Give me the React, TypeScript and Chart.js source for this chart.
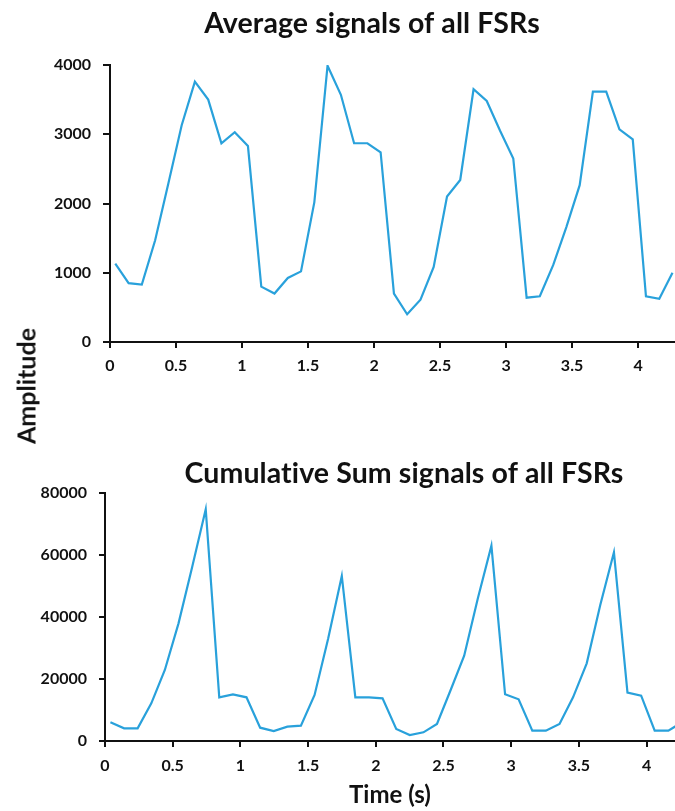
import React, { useEffect, useRef } from "react";
import { Chart, registerables } from "chart.js";

Chart.register(...registerables);

const times = [
  0.04, 0.141, 0.241, 0.342, 0.442, 0.543, 0.643, 0.744, 0.844, 0.945,
  1.045, 1.146, 1.246, 1.347, 1.447, 1.548, 1.648, 1.749, 1.849, 1.95,
  2.05, 2.151, 2.251, 2.352, 2.452, 2.553, 2.653, 2.754, 2.854, 2.955,
  3.055, 3.156, 3.256, 3.357, 3.457, 3.558, 3.658, 3.759, 3.859, 3.96,
  4.06, 4.161, 4.261,
];

const averageSignal = [
  1130, 850, 830, 1470, 2290, 3130, 3760, 3500, 2870, 3030,
  2830, 800, 700, 925, 1020, 2020, 3990, 3570, 2870, 2870,
  2740, 700, 400, 610, 1085, 2100, 2340, 3650, 3480, 3050,
  2650, 640, 660, 1110, 1660, 2265, 3615, 3615, 3070, 2925,
  660, 625, 1000,
];

const cumulativeSignal = [
  6030, 4090, 4090, 12170, 22930, 38000, 56000, 74830, 14110, 15080,
  14110, 4300, 3230, 4630, 4950, 14860, 33000, 53290, 14110, 14110,
  13790, 3880, 1940, 2800, 5490, 16470, 27560, 46090, 63080, 15080,
  13470, 3330, 3330, 5490, 14110, 25090, 43930, 60950, 15600, 14630,
  3330, 3330, 6000,
];

const topTitle = "Average signals of all FSRs";
const bottomTitle = "Cumulative Sum signals of all FSRs";
const yAxisLabel = "Amplitude";
const xAxisLabel = "Time (s)";

const LINE = "#29A1DB";
const FONT = "Lato";
const INK = "#111";

const titlePlugin = {
  id: "placedTitle",
  afterDraw(chart: any) {
    const o = chart.options.plugins.placedTitle;
    if (!o || !o.text) return;
    const ctx = chart.ctx;
    ctx.save();
    ctx.fillStyle = INK;
    ctx.font = `bold ${o.size}px ${FONT}`;
    try {
      (ctx as any).letterSpacing = "0.1px";
    } catch (e) {}
    ctx.textAlign = "center";
    ctx.textBaseline = "alphabetic";
    ctx.fillText(o.text, o.x, o.y);
    ctx.restore();
  },
};

function makeConfig(opts: {
  values: number[];
  title: string;
  titleX: number;
  titleY: number;
  topPad: number;
  yMax: number;
  yStep: number;
  xMax: number;
  yWidth: number;
  xHeight: number;
  tickLenY: number;
  tickLenX: number;
  yPad: number;
  xPad: number;
  xTitle?: string;
}) {
  return {
    type: "line" as const,
    data: {
      datasets: [
        {
          data: times.map((t, i) => ({ x: t, y: opts.values[i] })),
          borderColor: LINE,
          borderWidth: 2.2,
          pointRadius: 0,
          tension: 0,
          fill: false,
        },
      ],
    },
    plugins: [titlePlugin],
    options: {
      animation: false,
      responsive: false,
      maintainAspectRatio: false,
      layout: { padding: { top: opts.topPad, left: 0, right: 0, bottom: 0 } },
      plugins: {
        legend: { display: false },
        tooltip: { enabled: false },
        title: { display: false },
        placedTitle: { text: opts.title, x: opts.titleX, y: opts.titleY, size: 28.5 },
      },
      scales: {
        x: {
          type: "linear",
          min: 0,
          max: opts.xMax,
          grid: {
            display: true,
            drawOnChartArea: false,
            drawTicks: true,
            tickLength: opts.tickLenX,
            color: INK,
            lineWidth: 2,
          },
          border: { display: true, color: INK, width: 2 },
          ticks: {
            stepSize: 0.5,
            includeBounds: false,
            color: INK,
            padding: opts.xPad,
            maxRotation: 0,
            font: { family: FONT, size: 16, weight: "bold" },
            callback: (v: number) => String(v),
          },
          title: opts.xTitle
            ? {
                display: true,
                text: opts.xTitle,
                color: INK,
                font: { family: FONT, size: 24, weight: "bold" },
                padding: { top: 0, bottom: 1 },
              }
            : { display: false },
          afterFit: (s: any) => {
            s.height = opts.xHeight;
          },
        },
        y: {
          min: 0,
          max: opts.yMax,
          grid: {
            display: true,
            drawOnChartArea: false,
            drawTicks: true,
            tickLength: opts.tickLenY,
            color: INK,
            lineWidth: 2,
          },
          border: { display: true, color: INK, width: 2 },
          ticks: {
            stepSize: opts.yStep,
            color: INK,
            padding: opts.yPad,
            font: { family: FONT, size: 16, weight: "bold" },
            callback: (v: number) => String(v),
          },
          afterFit: (s: any) => {
            s.width = opts.yWidth;
          },
        },
      },
    },
  };
}

export default function App() {
  const topRef = useRef<HTMLCanvasElement | null>(null);
  const botRef = useRef<HTMLCanvasElement | null>(null);

  useEffect(() => {
    const c1 = new Chart(
      topRef.current as HTMLCanvasElement,
      makeConfig({
        values: averageSignal,
        title: topTitle,
        titleX: 372,
        titleY: 33,
        topPad: 65,
        yMax: 4000,
        yStep: 1000,
        xMax: 4.28,
        yWidth: 110,
        xHeight: 58,
        tickLenY: 7,
        tickLenX: 6,
        yPad: 12,
        xPad: 8,
      }) as any
    );
    const c2 = new Chart(
      botRef.current as HTMLCanvasElement,
      makeConfig({
        values: cumulativeSignal,
        title: bottomTitle,
        titleX: 404,
        titleY: 43,
        topPad: 53.3,
        yMax: 80000,
        yStep: 20000,
        xMax: 4.21,
        yWidth: 105,
        xHeight: 70,
        tickLenY: 6,
        tickLenX: 6,
        yPad: 12,
        xPad: 9,
        xTitle: xAxisLabel,
      }) as any
    );
    return () => {
      c1.destroy();
      c2.destroy();
    };
  }, []);

  return (
    <div
      style={{
        position: "fixed",
        left: 0,
        top: 0,
        width: 675,
        height: 811,
        background: "#fff",
        overflow: "hidden",
      }}
    >
      <canvas
        ref={topRef}
        width={675}
        height={400}
        style={{ position: "absolute", left: 0, top: 0, width: 675, height: 400 }}
      />
      <canvas
        ref={botRef}
        width={675}
        height={371}
        style={{ position: "absolute", left: 0, top: 440, width: 675, height: 371 }}
      />
      <div
        style={{
          position: "absolute",
          left: 26,
          top: 386,
          transform: "translate(-50%, -50%) rotate(-90deg)",
          fontFamily: FONT,
          fontWeight: "bold",
          fontSize: 25,
          color: INK,
          whiteSpace: "nowrap",
          lineHeight: 1,
        }}
      >
        {yAxisLabel}
      </div>
    </div>
  );
}
